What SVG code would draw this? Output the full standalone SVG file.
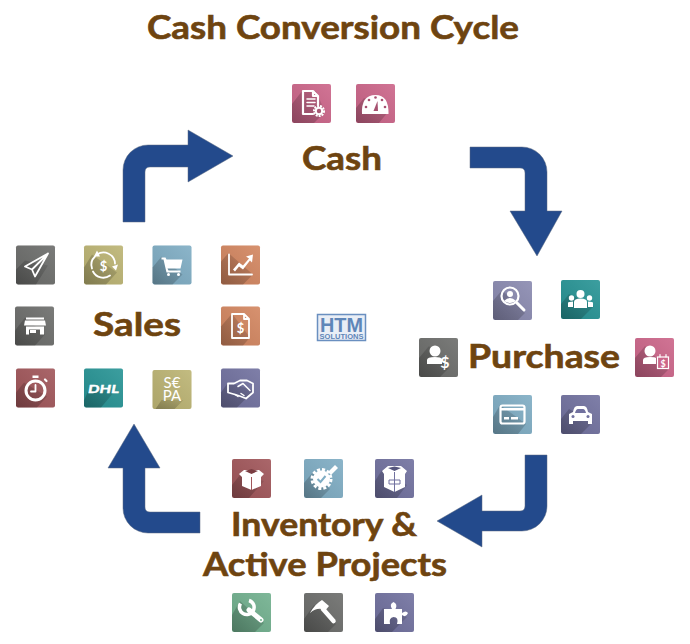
<svg xmlns="http://www.w3.org/2000/svg" width="690" height="644" viewBox="0 0 690 644">
<style>
text{font-family:"Lato","Liberation Sans",sans-serif}
.t{font-weight:700;fill:#6e4410;stroke:#6e4410;stroke-width:.6;font-size:33px}
.title{font-size:32px}
.arrow{fill:#234a8c;stroke:#5d6b80;stroke-width:.5}
.pink{fill:#cc6589}.grey{fill:#6c6d6b}.khaki{fill:#bcb473}.blue{fill:#7fadc4}.orange{fill:#d38660}.red{fill:#a1565a}.teal{fill:#279495}.purple{fill:#71719f}.lav{fill:#8a8ab0}.green{fill:#71b08e}
.sh{fill:url(#fade)}
.w{fill:#fff}
.o{fill:none;stroke:#fff;stroke-width:2.200;stroke-linejoin:round;stroke-linecap:round}
.i{font-weight:700;fill:#fff;text-anchor:middle}
.logo{font-family:"Liberation Sans",sans-serif;font-weight:700;fill:#5f86b8;text-anchor:middle}
</style>
<defs>
<linearGradient id="sheen" x1="1" y1="0" x2="0" y2="1"><stop offset="0" stop-color="#fff" stop-opacity=".1"/><stop offset="1" stop-color="#000" stop-opacity=".08"/></linearGradient>
<linearGradient id="fade" x1="0" y1="1" x2="1" y2="0"><stop offset="0" stop-color="#000" stop-opacity=".26"/><stop offset="1" stop-color="#000" stop-opacity=".08"/></linearGradient>
<rect id="b" width="39" height="39" rx="2"/>
<rect id="s" width="39" height="39" rx="2" fill="url(#sheen)"/>
</defs>

<text class="t title" x="147" y="39" textLength="372" lengthAdjust="spacingAndGlyphs">Cash Conversion Cycle</text>

<g id="connectors">
<path class="arrow" d="M123 222V170A25 25 0 0 1 148 145H188V130L233 156L188 182V167H150Q145 167 145 172V222Z"/>
<path class="arrow" d="M470 147H522A25 25 0 0 1 547 172V211H562L537 256L510 211H525V173Q525 168 520 168H470Z"/>
<path class="arrow" d="M547 455V506A25 25 0 0 1 522 531H482V547L437 521L482 495V511H520Q525 511 525 506V455Z"/>
<path class="arrow" d="M200 533H148A25 25 0 0 1 123 508V468H108L134 424L160 468H145V507Q145 512 150 512H200Z"/>
</g>

<g id="cash">
<text class="t" x="302" y="170" textLength="80" lengthAdjust="spacingAndGlyphs">Cash</text>
<g id="cash-doc" transform="translate(292 84)"><use href="#b" class="pink"/><use href="#s"/><polygon class="sh" points="0,20 10,7 24,7 33,28 22,39 2,39 0,37"/><path class="o" d="M11 7H21L26 12V21M26 12H21V7M11 7V30H21"/><path class="o" d="M15 15H23M15 18.500H23M15 22H22" style="stroke-width:1.500"/><circle cx="27" cy="27" r="5" fill="none" stroke="#fff" stroke-width="2" stroke-dasharray="2 1"/><circle cx="27" cy="27" r="3.200" fill="none" stroke="#fff" stroke-width="2"/></g>
<g id="cash-gauge" transform="translate(356 84)"><use href="#b" class="pink"/><use href="#s"/><polygon class="sh" points="0,24 8,14 32,28 23,39 2,39 0,37"/><path class="w" d="M6 30Q5 11 19.500 11Q33 11 32.500 30Z"/><g fill="#a6506f"><circle cx="10" cy="23" r="1.300"/><circle cx="13" cy="16" r="1.300"/><circle cx="19.500" cy="13.500" r="1.300"/><circle cx="26" cy="16" r="1.300"/><circle cx="29" cy="23" r="1.300"/><path d="M21.500 17L22 27H17.500Z"/></g></g>
</g>

<g id="purchase">
<text class="t" x="468" y="368" textLength="152" lengthAdjust="spacingAndGlyphs">Purchase</text>
<g id="pu-search" transform="translate(493 281)"><use href="#b" class="lav"/><use href="#s"/><polygon class="sh" points="0,20 9,9 32,32 25,39 2,39 0,37"/><circle cx="17" cy="15" r="8.500" class="o"/><circle cx="17" cy="13" r="3" class="w"/><path class="w" d="M11 20Q17 14 23 20Q17 24 11 20Z"/><path class="o" d="M24 22L31 29" style="stroke-width:3"/></g>
<g id="pu-team" transform="translate(561 280)"><use href="#b" class="teal"/><use href="#s"/><polygon class="sh" points="0,24 8,14 33,26 20,39 2,39 0,37"/><circle cx="19.500" cy="14" r="4" class="w"/><path class="w" d="M13 28V22Q13 18.500 19.500 18.500Q26 18.500 26 22V28Z"/><circle cx="10.500" cy="18" r="2.700" class="w"/><path class="w" d="M7 27V23Q7 21.500 12 21.500V27Z"/><circle cx="28.500" cy="18" r="2.700" class="w"/><path class="w" d="M32 27V23Q32 21.500 27 21.500V27Z"/></g>
<g id="pu-dollar" transform="translate(419 338)"><use href="#b" class="grey"/><use href="#s"/><polygon class="sh" points="0,20 10,8 30,30 21,39 2,39 0,37"/><circle cx="16" cy="13" r="5.500" class="w"/><path class="w" d="M8 26V22Q8 19 16 19Q22 19 23 21V26Z"/><text class="i" x="26" y="30" font-size="16">$</text></g>
<g id="pu-cal" transform="translate(635 338)"><use href="#b" class="pink"/><use href="#s"/><polygon class="sh" points="0,20 10,8 33,32 26,39 2,39 0,37"/><circle cx="15" cy="13" r="5.500" class="w"/><path class="w" d="M8 26V22Q8 19 15 19Q20 19 21 20V26Z"/><rect x="22.500" y="19" width="11" height="11.500" fill="#cc6589" stroke="#fff" stroke-width="1.200"/><path class="o" d="M25 16.500V19M31 16.500V19" style="stroke-width:1.200"/><text class="i" x="28" y="29" font-size="9">$</text></g>
<g id="pu-card" transform="translate(493 395)"><use href="#b" class="blue"/><use href="#s"/><polygon class="sh" points="0,22 7,10 33,29 25,39 2,39 0,37"/><rect x="7.500" y="10.500" width="24" height="18" rx="2" class="o"/><rect x="8" y="13" width="23" height="2.500" class="w"/><rect x="11" y="22" width="5" height="2.500" class="w"/><rect x="18" y="22" width="7" height="2.500" class="w"/></g>
<g id="pu-car" transform="translate(561 395)"><use href="#b" class="purple"/><use href="#s"/><polygon class="sh" points="0,24 8,14 32,27 20,39 2,39 0,37"/><path class="w" d="M12 17Q13 11 16 11H23Q26 11 27 17L31 19V29H27V26H12V29H8V19Z"/><path d="M14 18Q15 14 17 14H22Q24 14 25 18Z" fill="#71719f"/><circle cx="12" cy="21.500" r="1.500" fill="#71719f"/><circle cx="27" cy="21.500" r="1.500" fill="#71719f"/></g>
</g>

<g id="inventory">
<text class="t" x="231" y="536" textLength="186" lengthAdjust="spacingAndGlyphs">Inventory &amp;</text>
<text class="t" x="203" y="576" textLength="244" lengthAdjust="spacingAndGlyphs">Active Projects</text>
<g id="in-box" transform="translate(232 459)"><use href="#b" class="red"/><use href="#s"/><polygon class="sh" points="0,26 8,16 32,22 17,39 2,39 0,37"/><path class="w" d="M7 15L12 11H27L32 15L29 18V27L19.500 31L10 27V18Z"/><path d="M13 12L19.500 10L26 12L19.500 15Z" fill="#7a3d42"/><path d="M19.500 18V31" stroke="#a1565a" stroke-width="1"/></g>
<g id="in-gear" transform="translate(304 459)"><use href="#b" class="blue"/><use href="#s"/><polygon class="sh" points="0,24 9,13 26,30 17,39 2,39 0,37"/><circle cx="17.500" cy="20" r="9.500" fill="none" stroke="#fff" stroke-width="3" stroke-dasharray="3 2"/><circle cx="17.500" cy="20" r="8.500" class="w"/><path d="M13.500 20L16.500 23L21.500 17" fill="none" stroke="#7fadc4" stroke-width="2"/><path d="M24 13L31 6L34 9L27 16Z" class="w"/></g>
<g id="in-parcel" transform="translate(375 459)"><use href="#b" class="purple"/><use href="#s"/><polygon class="sh" points="0,22 7,11 32,26 22,39 2,39 0,37"/><path class="w" d="M7 12L13 7H26L32 12L30 15V28L19.500 33L9 28V15Z"/><path d="M13 9L19.500 7.500L26 9L19.500 12Z" fill="#55557d"/><path d="M14 21H25V25H14Z M19.500 13V33" fill="none" stroke="#71719f" stroke-width="1"/></g>
<g id="in-wrench" transform="translate(232 593)"><use href="#b" class="green"/><use href="#s"/><polygon class="sh" points="0,22 8,8 32,30 23,39 2,39 0,37"/><path class="o" d="M17 17L29 27" style="stroke-width:5"/><path d="M8.500 10.500A7 7 0 0 0 21 18A7 7 0 0 0 17 7.500" fill="none" stroke="#fff" stroke-width="3.500"/><circle cx="29" cy="27" r="1" fill="#71b08e"/></g>
<g id="in-hammer" transform="translate(304 593)"><use href="#b" class="grey"/><use href="#s"/><polygon class="sh" points="0,26 10,12 32,31 24,39 2,39 0,37"/><path class="w" d="M6 20Q11 11 18 7L25 13L20 19L17.500 16Q12 15 6 20Z"/><path class="o" d="M19 16L29.500 28" style="stroke-width:4.500"/></g>
<g id="in-puzzle" transform="translate(375 593)"><use href="#b" class="purple"/><use href="#s"/><polygon class="sh" points="0,26 8,15 32,24 17,39 2,39 0,37"/><path class="w" d="M9 16H17Q14 11 18.500 9Q23 11 20.500 16H27V20Q31 17 33 20Q31 25 27 22V31H22Q24 24 18.500 24Q13.500 25 15 31H9Z"/></g>
</g>

<g id="sales">
<text class="t" x="93" y="336" textLength="88" lengthAdjust="spacingAndGlyphs">Sales</text>
<g id="sa-plane" transform="translate(16 245.500)"><use href="#b" class="grey"/><use href="#s"/><polygon class="sh" points="0,24 9,15 32,20 20,39 2,39 0,37"/><path class="o" d="M32 8L9 21L16 24L19 31L32 8L16 24" style="stroke-width:1.800"/></g>
<g id="sa-cycle" transform="translate(84 245.500)"><use href="#b" class="khaki"/><use href="#s"/><polygon class="sh" points="0,22 8,9 33,27 22,39 2,39 0,37"/><path class="o" d="M13 9A11.500 11.500 0 0 1 31 18M26 30A11.500 11.500 0 0 1 9 26" style="stroke-width:1.800"/><path class="o" d="M8 23A11.500 11.500 0 0 1 11 11" style="stroke-width:1.800"/><polygon class="w" points="13,5 16,11 10,11"/><polygon class="w" points="28,21 34,19 32,25"/><text class="i" x="19.500" y="25" font-size="13">$</text></g>
<g id="sa-cart" transform="translate(152.500 245.500)"><use href="#b" class="blue"/><use href="#s"/><polygon class="sh" points="0,22 9,11 30,29 20,39 2,39 0,37"/><path class="w" d="M9 12H13L14 14H30L28 23H15L16 25H28V27H14L11 14H9Z"/><circle cx="16" cy="29" r="1.500" class="w"/><circle cx="26" cy="29" r="1.500" class="w"/></g>
<g id="sa-chart" transform="translate(221 245.500)"><use href="#b" class="orange"/><use href="#s"/><polygon class="sh" points="0,16 7,8 8,8 32,29 22,39 2,39 0,37"/><path class="o" d="M8 9V29H31" style="stroke-width:1.800"/><path class="w" d="M12 24L18 17L22 20L28 13L25 11L32 9L31 17L29 15L22 24L18 21L14 26Z"/></g>
<g id="sa-store" transform="translate(15 306.500)"><use href="#b" class="grey"/><use href="#s"/><polygon class="sh" points="0,24 10,11 30,28 20,39 2,39 0,37"/><rect x="11" y="11" width="18" height="2" class="w"/><path class="w" d="M10 14H30L31 19H9Z"/><path class="w" d="M11 20H29V28H25V23H14V28H11Z"/><rect x="15" y="23.500" width="6" height="3" class="w"/></g>
<g id="sa-inv" transform="translate(221 306.500)"><use href="#b" class="orange"/><use href="#s"/><polygon class="sh" points="0,20 11,7 29,31 22,39 2,39 0,37"/><path class="o" d="M11 7.500H23L28 12.500V31.500H11ZM23 7.500V12.500H28" style="stroke-width:1.800"/><text class="i" x="19.500" y="26" font-size="13">$</text></g>
<g id="sa-timer" transform="translate(16 368.500)"><use href="#b" class="red"/><use href="#s"/><polygon class="sh" points="0,24 8,14 31,28 21,39 2,39 0,37"/><circle cx="19.500" cy="22" r="9.500" fill="none" stroke="#fff" stroke-width="3"/><rect x="16.500" y="7" width="6" height="2.500" class="w"/><path class="o" d="M19.500 16.500V23H15" style="stroke-width:1.800"/><path class="o" d="M29 11L30.500 12.500"/></g>
<g id="sa-dhl" transform="translate(84 368.500)"><use href="#b" class="teal"/><use href="#s"/><polygon class="sh" points="0,32 6,18 33,20 17,39 2,39 0,37"/><text class="i" x="19.500" y="24" font-size="12" font-style="italic" font-weight="900" stroke="#fff" stroke-width=".4" textLength="31" lengthAdjust="spacingAndGlyphs">DHL</text></g>
<g id="sa-sepa" transform="translate(152.500 370)"><use href="#b" class="khaki"/><use href="#s"/><polygon class="sh" points="0,39 3,39 9,30 31,30 22,39"/><text class="i" font-size="15" style="font-weight:400"><tspan x="19.500" y="17.500">S€</tspan><tspan x="19.500" y="31">PA</tspan></text></g>
<g id="sa-hands" transform="translate(221 368.500)"><use href="#b" class="purple"/><use href="#s"/><polygon class="sh" points="0,24 7,14 33,22 16,39 2,39 0,37"/><path class="o" d="M7 15H13L19 12L26 12L32 15V24L25 30L20 28L14 26L7 24Z" style="stroke-width:1.800"/><path class="o" d="M17 18L22 15L29 22M14 26L17 28M20 25L23 27" style="stroke-width:1.500"/></g>
</g>

<g id="logo">
<rect x="317.500" y="314.500" width="48" height="26" fill="#e9eef6" stroke="#6a8fc0" stroke-width="1.500"/>
<text class="logo"><tspan x="341.500" y="332" font-size="20" textLength="43" lengthAdjust="spacingAndGlyphs">HTM</tspan><tspan x="341.500" y="338.500" font-size="6.500" textLength="44" lengthAdjust="spacingAndGlyphs">SOLUTIONS</tspan></text>
</g>
</svg>
